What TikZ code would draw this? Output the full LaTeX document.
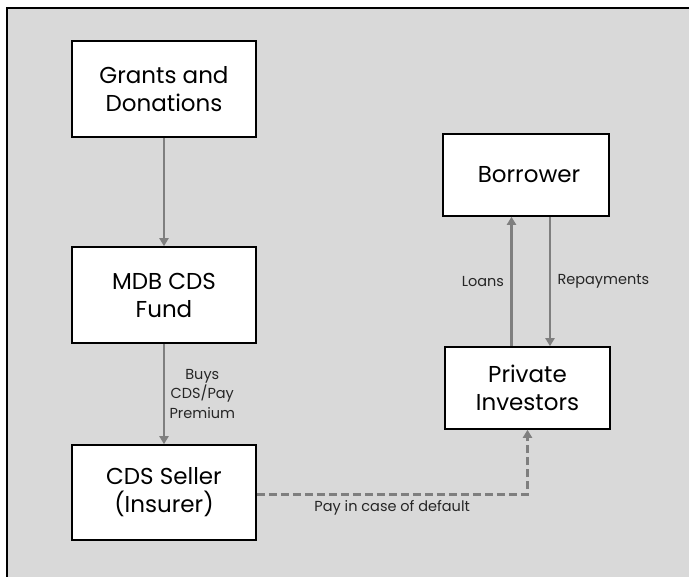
\documentclass[tikz,border=0pt]{standalone}
\usepackage{fontspec}
\setmainfont{Poppins}
\usetikzlibrary{arrows.meta,positioning}

\definecolor{panelgray}{HTML}{D9D9D9}
\definecolor{flowgray}{HTML}{7F7F7F}

\tikzset{
  box/.style={draw=black, line width=1.6pt, fill=white, align=center,
    font=\fontsize{23}{28}\selectfont, inner sep=0pt},
  flow/.style={draw=flowgray, line width=2.4pt, -{Triangle[length=8pt,width=9pt]}},
  lbl/.style={font=\fontsize{14.5}{19.5}\selectfont, text=black!85, align=center}
}

\begin{document}
\begin{tikzpicture}[x=1pt,y=-1pt]

  \useasboundingbox (0,0) rectangle (689,577);
  \draw[fill=panelgray, line width=1.6pt] (7,8) rectangle (700,590);

  \node[box, minimum width=184pt, minimum height=96pt] (grants) at (164,89) {Grants and\\Donations};

  \node[box, minimum width=184pt, minimum height=96pt] (fund) at (164,295) {MDB CDS\\Fund};

  \node[box, minimum width=184pt, minimum height=95pt] (seller) at (164,492.5) {CDS Seller\\(Insurer)};

  \node[box, minimum width=166pt, minimum height=82pt] (borrower) at (526,175) {\hspace*{6pt}Borrower};

  \node[box, minimum width=165pt, minimum height=82pt] (investors) at (527.5,388) {Private\\Investors};

  \draw[flow] (grants) -- (fund);

  \draw[flow] (fund) -- node[lbl, right, xshift=1pt] {Buys\\CDS/Pay\\Premium} (seller);

  \draw[flow] ([xshift=-16pt]investors.north) -- node[lbl, left, xshift=-3pt] {Loans}
              ([xshift=-16pt]investors.north |- borrower.south);

  \draw[flow] ([xshift=24pt]borrower.south) -- node[lbl, right, xshift=3pt] {Repayments}
              ([xshift=24pt]borrower.south |- investors.north);

  \draw[flow, dash pattern=on 8pt off 4pt] ([yshift=-2pt]seller.east) -- node[lbl, below, yshift=-1pt] {Pay in case of default}
              ([yshift=-2pt]seller.east -| investors.south) -- (investors.south);

\end{tikzpicture}
\end{document}
